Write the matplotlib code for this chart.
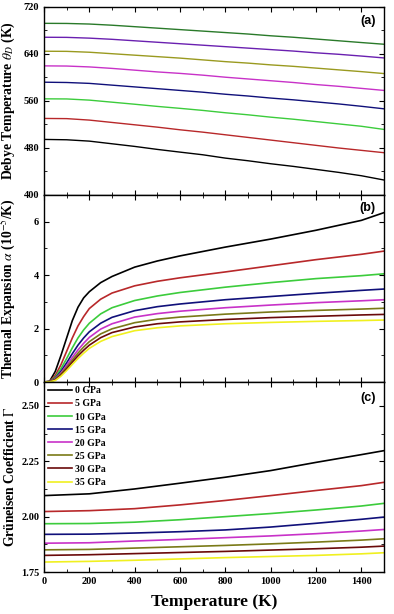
import matplotlib
matplotlib.use("Agg")
import matplotlib.pyplot as plt
from matplotlib.ticker import MultipleLocator

plt.rcParams['font.family'] = ['Liberation Serif', 'DejaVu Serif']
plt.rcParams['mathtext.fontset'] = 'stix'

pressures = ['0 GPa', '5 GPa', '10 GPa', '15 GPa', '20 GPa', '25 GPa', '30 GPa', '35 GPa']
colors_bc = ['#000000', '#b8282a', '#3ccc3c', '#10107a', '#c832c8', '#7a7a18', '#6a0a0a', '#f0f020']
colors_a = ['#000000', '#b8282a', '#3ccc3c', '#10107a', '#c832c8', '#9a9a20', '#6a20b0', '#2a7a2a']

# (a) Debye temperature
T_a = [0, 100, 200, 300, 400, 500, 600, 700, 800, 900, 1000, 1100, 1200, 1300, 1400, 1500]
debye = [
    [494.6, 494.0, 491.7, 487.2, 482.7, 477.6, 473.0, 468.5, 462.8, 458.3, 453.2, 448.7, 443.6, 438.5, 432.8, 425.5],
    [530.3, 530.0, 527.5, 523.5, 519.5, 515.5, 511.0, 507.0, 502.5, 498.0, 493.5, 489.0, 484.5, 480.0, 476.0, 472.0],
    [563.7, 563.5, 561.5, 558.0, 554.5, 550.8, 547.5, 544.0, 540.0, 536.5, 532.5, 529.0, 525.0, 521.0, 517.0, 511.6],
    [592.0, 591.5, 590.0, 587.0, 584.0, 581.0, 578.0, 575.0, 571.5, 568.5, 565.0, 562.0, 558.5, 555.0, 551.0, 546.7],
    [619.8, 619.5, 618.0, 615.5, 612.5, 609.5, 607.0, 604.0, 600.5, 597.5, 594.5, 591.5, 588.0, 585.0, 581.5, 578.0],
    [644.7, 644.5, 643.0, 640.5, 638.0, 635.5, 633.0, 630.0, 627.0, 624.5, 621.5, 619.0, 616.0, 613.0, 610.0, 606.7],
    [668.5, 668.3, 667.0, 665.0, 662.5, 660.0, 657.5, 655.0, 652.5, 650.0, 647.5, 645.0, 642.0, 639.5, 636.5, 633.3],
    [692.2, 692.0, 691.0, 689.0, 686.5, 684.0, 681.5, 679.0, 676.5, 674.0, 671.0, 668.5, 665.5, 662.5, 659.5, 656.6],
]

# (b) Thermal expansion (10^-5 /K)
T_b = [0, 25, 50, 75, 100, 125, 150, 175, 200, 250, 300, 400, 500, 600, 800, 1000, 1200, 1400, 1500]
alpha = [
    [0, 0.03, 0.40, 1.00, 1.65, 2.30, 2.80, 3.15, 3.38, 3.72, 3.95, 4.30, 4.53, 4.72, 5.05, 5.35, 5.68, 6.05, 6.34],
    [0, 0.02, 0.25, 0.65, 1.15, 1.65, 2.10, 2.45, 2.75, 3.10, 3.33, 3.60, 3.77, 3.90, 4.12, 4.35, 4.58, 4.78, 4.90],
    [0, 0.015, 0.18, 0.50, 0.88, 1.28, 1.65, 1.95, 2.20, 2.55, 2.78, 3.05, 3.22, 3.35, 3.55, 3.72, 3.87, 3.98, 4.05],
    [0, 0.01, 0.14, 0.40, 0.72, 1.06, 1.38, 1.65, 1.88, 2.20, 2.42, 2.67, 2.82, 2.92, 3.08, 3.20, 3.32, 3.43, 3.48],
    [0, 0.01, 0.12, 0.34, 0.62, 0.92, 1.20, 1.45, 1.67, 1.98, 2.18, 2.43, 2.56, 2.65, 2.78, 2.88, 2.97, 3.04, 3.08],
    [0, 0.01, 0.10, 0.30, 0.55, 0.82, 1.08, 1.31, 1.51, 1.80, 1.99, 2.22, 2.35, 2.43, 2.54, 2.62, 2.68, 2.73, 2.76],
    [0, 0.01, 0.08, 0.26, 0.49, 0.74, 0.98, 1.19, 1.38, 1.66, 1.85, 2.06, 2.18, 2.25, 2.34, 2.41, 2.46, 2.51, 2.53],
    [0, 0.005, 0.06, 0.22, 0.43, 0.66, 0.88, 1.08, 1.26, 1.52, 1.70, 1.92, 2.03, 2.10, 2.18, 2.23, 2.27, 2.30, 2.32],
]

# (c) Gruneisen coefficient
T_c = [0, 200, 400, 600, 800, 1000, 1200, 1400, 1500]
gamma = [
    [2.095, 2.103, 2.125, 2.151, 2.178, 2.208, 2.245, 2.280, 2.298],
    [2.023, 2.027, 2.036, 2.053, 2.073, 2.095, 2.118, 2.140, 2.155],
    [1.968, 1.969, 1.975, 1.986, 2.000, 2.014, 2.030, 2.048, 2.060],
    [1.920, 1.921, 1.926, 1.932, 1.940, 1.953, 1.970, 1.988, 1.998],
    [1.880, 1.882, 1.890, 1.897, 1.905, 1.913, 1.923, 1.935, 1.942],
    [1.850, 1.852, 1.858, 1.864, 1.870, 1.877, 1.885, 1.894, 1.900],
    [1.825, 1.828, 1.833, 1.838, 1.843, 1.849, 1.855, 1.862, 1.867],
    [1.795, 1.798, 1.803, 1.809, 1.815, 1.820, 1.825, 1.832, 1.837],
]

fig = plt.figure(figsize=(3.94, 6.14), dpi=100)
L, W = 44 / 394, 340 / 394
def pos(top, bot):
    return [L, 1 - bot / 614, W, (bot - top) / 614]

axa = fig.add_axes(pos(7, 195))
axb = fig.add_axes(pos(195, 382))
axc = fig.add_axes(pos(382, 572))

for i in range(8):
    axa.plot(T_a, debye[i], color=colors_a[i], lw=1.0)
    axb.plot(T_b, alpha[i], color=colors_bc[i], lw=1.2)
    axc.plot(T_c, gamma[i], color=colors_bc[i], lw=1.2, label=pressures[i])

for ax in (axa, axb, axc):
    ax.set_xlim(0, 1500)
    ax.xaxis.set_major_locator(MultipleLocator(200))
    ax.xaxis.set_minor_locator(MultipleLocator(100))
    ax.tick_params(which='both', direction='in', top=True, right=True, labelsize=7.5)
    ax.tick_params(which='major', length=3.5, width=0.8)
    ax.tick_params(which='minor', length=2, width=0.6)
    for s in ax.spines.values():
        s.set_linewidth(1.0)

axa.set_ylim(400, 720)
axa.yaxis.set_major_locator(MultipleLocator(80))
axa.yaxis.set_minor_locator(MultipleLocator(40))
axb.set_ylim(0, 7)
axb.yaxis.set_major_locator(MultipleLocator(2))
axb.yaxis.set_minor_locator(MultipleLocator(1))
axc.set_ylim(1.75, 2.608)
axc.set_yticks([1.75, 2.00, 2.25, 2.50])
axc.yaxis.set_minor_locator(MultipleLocator(0.125))
axc.set_yticklabels(['1.75', '2.00', '2.25', '2.50'])

axa.tick_params(labelbottom=False)
axb.tick_params(labelbottom=False)
for ax in (axa, axb, axc):
    for lab in ax.get_xticklabels() + ax.get_yticklabels():
        lab.set_fontweight('bold')

lblfont = dict(fontsize=9.8, fontweight='bold')
axa.set_ylabel(r'Debye Temperature $\theta_D$ (K)', **lblfont)
axb.set_ylabel(r'Thermal Expansion $\alpha$ (10$^{-5}$/K)', **lblfont)
axc.set_ylabel(r'Grüneisen Coefficient $\Gamma$', **lblfont)
for ax in (axa, axb, axc):
    ax.yaxis.set_label_coords(-0.078, 0.5)

axc.set_xlabel('Temperature (K)', fontsize=12.5, fontweight='bold', labelpad=6)

pfont = dict(fontsize=9, fontweight='bold', family='Liberation Sans', ha='right', va='center')
axa.text(0.975, 0.925, '(a)', transform=axa.transAxes, **pfont)
axb.text(0.975, 0.93, '(b)', transform=axb.transAxes, **pfont)
axc.text(0.975, 0.915, '(c)', transform=axc.transAxes, **pfont)

leg = axc.legend(loc='upper left', bbox_to_anchor=(0.0, 1.0), frameon=False,
                 prop=dict(size=7, weight='bold'), handlelength=2.4, handletextpad=0.3,
                 labelspacing=0.42, borderaxespad=0.25, borderpad=0.2)

fig.savefig('out.png', dpi=100)
